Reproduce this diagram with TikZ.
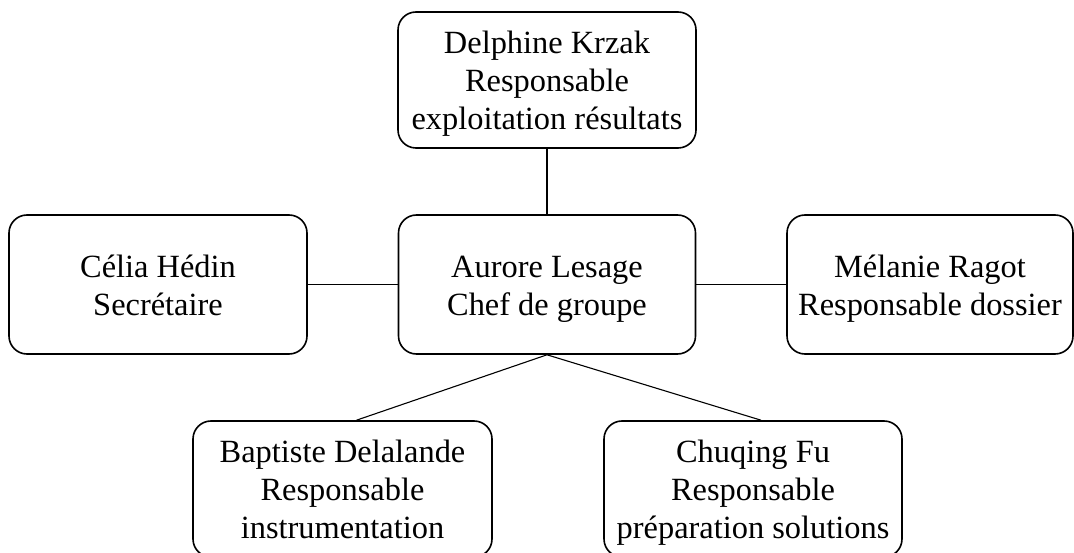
\documentclass[tikz,border=0pt]{standalone}
\usepackage{fontspec}
\setmainfont{Liberation Serif}
\newcommand\tstrut{\rule{0pt}{34.6pt}}
\newcommand\bstrut{\rule[-11.4pt]{0pt}{11.4pt}}
\begin{document}
\begin{tikzpicture}[x=1pt,y=-1pt,
  box/.style={draw=black, line width=1.6pt, rounded corners=18pt, align=center,
    inner sep=0pt, font=\fontsize{32.4}{38}\selectfont},
  link/.style={draw=black, line width=1.1pt}]
\clip (0,0) rectangle (1074,553);
\node[box, minimum width=298pt, minimum height=136pt] (top) at (547,80) {\tstrut Delphine Krzak\\Responsable\\exploitation résultats\bstrut};
\node[box, minimum width=297pt, minimum height=139pt] (ctr) at (547,284.5) {\tstrut Aurore Lesage\\Chef de groupe\bstrut};
\node[box, minimum width=298pt, minimum height=139pt] (lft) at (158,284.5) {\tstrut Célia Hédin\\Secrétaire\bstrut};
\node[box, minimum width=286pt, minimum height=139pt] (rgt) at (930,284.5) {\tstrut Mélanie Ragot\\Responsable dossier\bstrut};
\node[box, minimum width=299pt, minimum height=136pt] (bl) at (342.5,489) {\tstrut Baptiste Delalande\\Responsable\\instrumentation\bstrut};
\node[box, minimum width=298pt, minimum height=136pt] (br) at (753,489) {\tstrut Chuqing Fu\\Responsable\\préparation solutions\bstrut};
\draw[link] (top.south) -- (ctr.north);
\draw[link] (lft.east) -- (ctr.west);
\draw[link] (ctr.east) -- (rgt.west);
\draw[link] (ctr.south) -- ([xshift=14pt]bl.north);
\draw[link] (ctr.south) -- ([xshift=8pt]br.north);
\end{tikzpicture}
\end{document}
